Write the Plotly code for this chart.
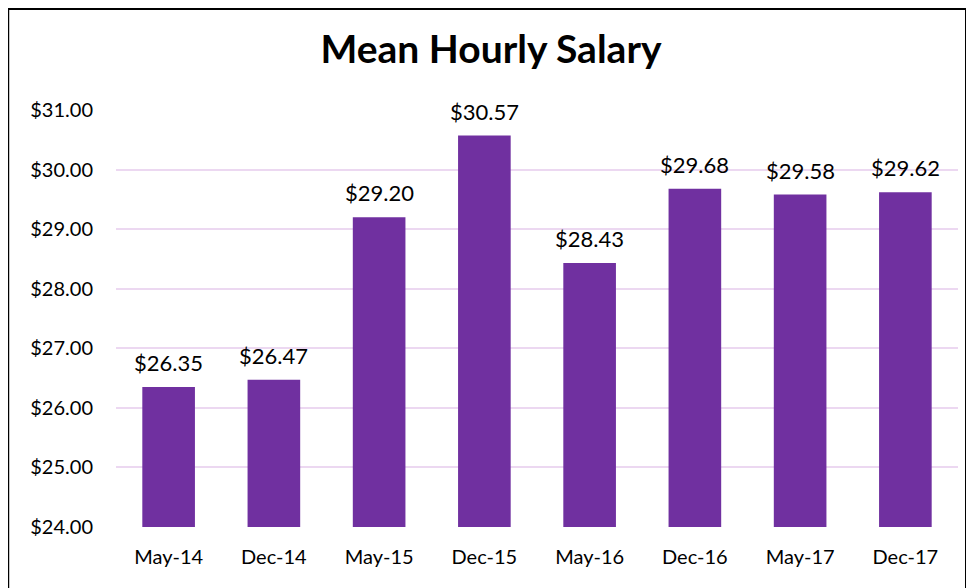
import plotly.graph_objects as go

periods = ['May-14', 'Dec-14', 'May-15', 'Dec-15', 'May-16', 'Dec-16', 'May-17', 'Dec-17']
salary = [26.35, 26.47, 29.20, 30.57, 28.43, 29.68, 29.58, 29.62]
y_ticks = [24, 25, 26, 27, 28, 29, 30, 31]

FONT = 'Lato, Open Sans, sans-serif'

fig = go.Figure()

fig.add_trace(go.Bar(
    x=periods,
    y=salary,
    marker_color='#7030A0',
    marker_line_width=0,
    hovertemplate='%{x}: $%{y:.2f}<extra></extra>',
))

# value labels above the bars
for p, v in zip(periods, salary):
    fig.add_annotation(x=p, y=v, text=f'${v:.2f}', showarrow=False,
                       yanchor='bottom', yshift=9,
                       font=dict(size=22, color='black', family=FONT))

fig.update_layout(
    width=966,
    height=580,
    paper_bgcolor='white',
    plot_bgcolor='white',
    margin=dict(l=108, r=16, t=102, b=61),
    bargap=0.5,
    showlegend=False,
    title=dict(text='<b>Mean Hourly Salary</b>', x=0.5, xanchor='center',
               y=0.928, yanchor='middle',
               font=dict(size=39, color='black', family=FONT)),
    font=dict(family=FONT, color='black'),
    xaxis=dict(tickfont=dict(size=20), showgrid=False, showline=False, ticks='',
               ticklabelstandoff=16),
    yaxis=dict(range=[24, 31], tickvals=y_ticks,
               ticktext=[f'${v:.2f}' for v in y_ticks],
               tickfont=dict(size=20), gridcolor='#ECD8F1', gridwidth=1.5,
               zeroline=False, ticks='', ticklabelstandoff=22),
)

# outer chart frame
fig.add_shape(type='rect', xref='paper', yref='paper',
              x0=-0.128, x1=1.0095, y0=-0.2, y1=1.242,
              line=dict(color='black', width=2), fillcolor='rgba(0,0,0,0)',
              layer='below')

fig.write_html("out.html")
